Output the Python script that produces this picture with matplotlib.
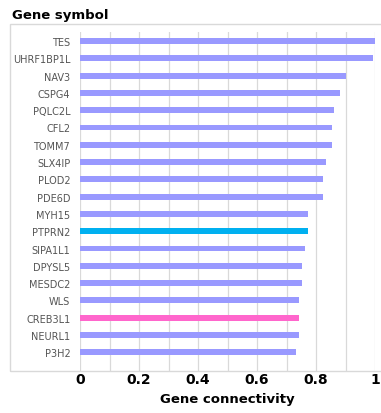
import matplotlib.pyplot as plt
from matplotlib.patches import Rectangle

genes = ['TES', 'UHRF1BP1L', 'NAV3', 'CSPG4', 'PQLC2L', 'CFL2', 'TOMM7',
         'SLX4IP', 'PLOD2', 'PDE6D', 'MYH15', 'PTPRN2', 'SIPA1L1', 'DPYSL5',
         'MESDC2', 'WLS', 'CREB3L1', 'NEURL1', 'P3H2']
connectivity = [1.0, 0.992, 0.902, 0.881, 0.862, 0.853, 0.853,
                0.834, 0.825, 0.825, 0.773, 0.773, 0.763, 0.754,
                0.754, 0.741, 0.741, 0.741, 0.732]
highlight = {'PTPRN2': '#00B0F0', 'CREB3L1': '#FF66CC'}
xticks = [0, 0.2, 0.4, 0.6, 0.8, 1]
xtick_labels = ['0', '0.2', '0.4', '0.6', '0.8', '1']

W, H = 381, 414
fig = plt.figure(figsize=(W / 100, H / 100), dpi=100)

# light frame around the chart area
fig.patches.append(Rectangle((10 / W, 1 - 372 / H), 380 / W, (372 - 25) / H,
                             transform=fig.transFigure, fill=False,
                             edgecolor='#D9D9D9', linewidth=1))

ax = fig.add_axes([80 / W, 1 - 372 / H, (375 - 80) / W, (372 - 33) / H])
colors = [highlight.get(g, '#9999FF') for g in genes]
ypos = list(range(len(genes)))
ax.barh(ypos, connectivity, height=0.34, color=colors, zorder=3)

ax.set_xlim(0, 1)
ax.set_ylim(len(genes) - 1 + 1.08, -0.52)
# gridlines every 0.1, labels every 0.2
grid_pos = [i / 10 for i in range(11)]
ax.set_xticks(grid_pos)
ax.grid(axis='x', color='#D9D9D9', linewidth=0.9, zorder=0)
ax.set_xticklabels([xtick_labels[xticks.index(round(p, 1))] if round(p, 1) in xticks else ''
                    for p in grid_pos], fontsize=10, fontweight='bold', color='black')
ax.set_yticks(ypos)
ax.set_yticklabels(genes, fontsize=7, color='#555555', fontweight='medium')
ax.tick_params(length=0)
ax.tick_params(axis='x', pad=1)
ax.tick_params(axis='y', pad=7)
for s in ax.spines.values():
    s.set_visible(False)

ax.set_xlabel('Gene connectivity', fontsize=9.5, fontweight='bold', labelpad=4)
fig.text(12 / W, 1 - 15 / H, 'Gene symbol', fontsize=9.5, fontweight='bold',
         va='center', ha='left')

fig.savefig('out.png', dpi=100)
